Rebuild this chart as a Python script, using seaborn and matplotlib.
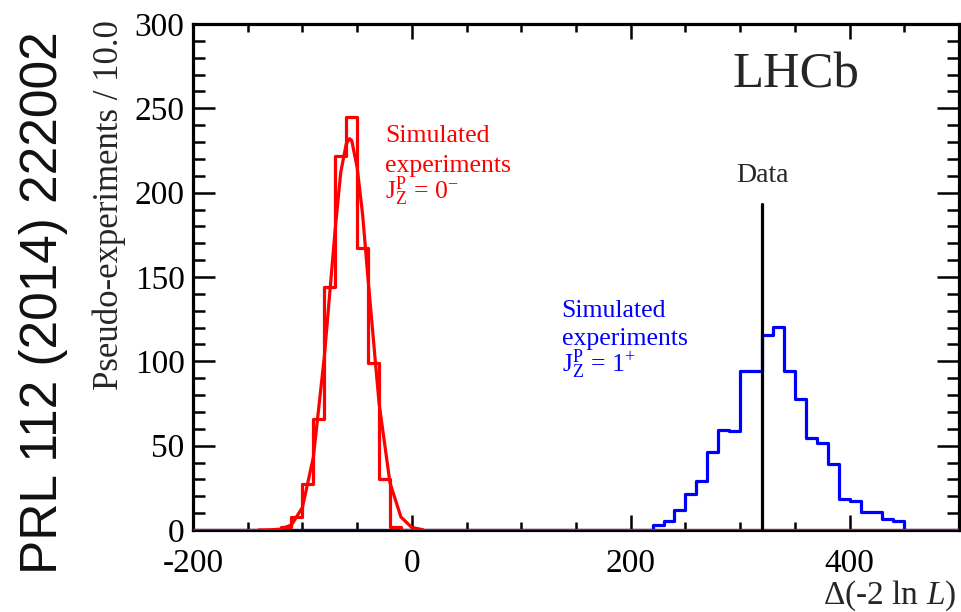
import numpy as np
import pandas as pd
import matplotlib
matplotlib.use("Agg")
import matplotlib.pyplot as plt
from matplotlib.ticker import MultipleLocator, FuncFormatter
import seaborn as sns

# ---------------- data ----------------
bin_lo, bin_hi, bin_w = -200, 500, 10

# red: J_Z^P = 0^- pseudo-experiments (bin lower edges and counts)
red_bins = [-120, -110, -100, -90, -80, -70, -60, -50, -40, -30, -20]
red_counts = [2, 8, 27, 66, 144, 222, 245, 167, 99, 30, 2]

# red fitted curve
fit_x = [-140, -130, -120, -110, -100, -90, -80, -70, -65, -60, -57, -55, -50, -45,
         -40, -30, -20, -10, 0, 10]
fit_y = [0.0, 0.1, 0.5, 3.0, 13.4, 43.2, 102.6, 178.7, 212, 228.8, 232, 231, 215, 187,
         148.6, 75.3, 28.0, 7.7, 1.5, 0.2]

# blue: J_Z^P = 1^+ pseudo-experiments
blue_bins = [220, 230, 240, 250, 260, 270, 280, 290, 300, 310, 320, 330, 340, 350,
             360, 370, 380, 390, 400, 410, 420, 430, 440]
blue_counts = [3, 5.5, 12, 21.5, 29, 46, 59.5, 58.5, 94.3, 94.3, 115.6, 120.5, 94.3,
               77.4, 54.5, 51.6, 39.2, 18.1, 17.3, 10.8, 10.8, 6.3, 5.5]

data_x = 320
data_top = 193

# ---------------- style ----------------
sns.set_style("ticks")
plt.rcParams["font.family"] = ["Liberation Serif", "DejaVu Serif"]
plt.rcParams["mathtext.fontset"] = "custom"
plt.rcParams["mathtext.rm"] = "Liberation Serif"
plt.rcParams["mathtext.it"] = "Liberation Serif:italic"
plt.rcParams["mathtext.bf"] = "Liberation Serif:bold"
plt.rcParams["axes.unicode_minus"] = False

fig = plt.figure(figsize=(9.61, 6.12), dpi=100)
ax = fig.add_axes([193 / 961, 1 - 530 / 612, (959 - 193) / 961, (530 - 24) / 612])

edges = np.arange(bin_lo, bin_hi + bin_w, bin_w)
centers = edges[:-1] + bin_w / 2


def full_counts(lows, counts):
    c = np.zeros(len(centers))
    for lo, v in zip(lows, counts):
        c[int(round((lo - bin_lo) / bin_w))] = v
    return c


df = pd.DataFrame({
    "x": centers,
    "blue": full_counts(blue_bins, blue_counts),
    "red": full_counts(red_bins, red_counts),
})

lw = 2.3
sns.histplot(data=df, x="x", weights="blue", binwidth=bin_w, binrange=(bin_lo, bin_hi),
             element="step", fill=False, color="#0000ff", linewidth=lw, ax=ax)
sns.histplot(data=df, x="x", weights="red", binwidth=bin_w, binrange=(bin_lo, bin_hi),
             element="step", fill=False, color="#ff0000", linewidth=lw, ax=ax)
sns.lineplot(x=fit_x, y=fit_y, color="#ff0000", linewidth=lw, sort=False,
             estimator=None, ax=ax)
ax.plot([data_x, data_x], [0, data_top], color="black", linewidth=lw)

ax.set_xlim(bin_lo, bin_hi)
ax.set_ylim(0, 300)

for s in ax.spines.values():
    s.set_visible(True)
    s.set_linewidth(2.3)
    s.set_color("black")
    s.set_zorder(0.5)

ax.xaxis.set_major_locator(MultipleLocator(200))
ax.xaxis.set_minor_locator(MultipleLocator(50))
ax.yaxis.set_major_locator(MultipleLocator(50))
ax.yaxis.set_minor_locator(MultipleLocator(10))
ax.xaxis.set_major_formatter(FuncFormatter(lambda v, p: f"{int(round(v))}"))
ax.yaxis.set_major_formatter(FuncFormatter(lambda v, p: f"{int(round(v))}"))

ax.tick_params(axis="both", which="both", direction="in", top=True, right=True,
               width=1.8, colors="black", labelsize=24)
ax.tick_params(axis="x", which="major", length=10.8, pad=13)
ax.tick_params(axis="x", which="minor", length=5.8)
ax.tick_params(axis="y", which="major", length=15.8, pad=6)
ax.tick_params(axis="y", which="minor", length=8.6)

ax.set_xlabel("")
ax.set_ylabel("Pseudo-experiments / 10.0", fontsize=25, loc="top")
ax.yaxis.set_label_coords(-0.088, 1.008)

fig.text(956 / 961, 1 - 604 / 612, "\u0394(-2 ln $L$)", fontsize=24, ha="right",
         va="baseline")

# annotations
ax.text(293.4, 262.6, "LHCb", fontsize=36.5, ha="left", va="baseline")
ax.text(data_x, 206.3, "Data", fontsize=20, ha="center", va="baseline")

red_lines = ["Simulated", "experiments", r"$\mathrm{J_Z^P}$ = 0$^{-}$"]
for txt, yy in zip(red_lines, [230.0, 212.4, 196.2]):
    ax.text(-24.6, yy, txt, fontsize=18.5, color="#ff0000", ha="left", va="baseline")

blue_lines = ["Simulated", "experiments", r"$\mathrm{J_Z^P}$ = 1$^{+}$"]
for txt, yy in zip(blue_lines, [126.5, 109.7, 93.9]):
    ax.text(136.9, yy, txt, fontsize=18.5, color="#0000ff", ha="left", va="baseline")

fig.text(44 / 961, 1 - 303 / 612, "PRL 112 (2014) 222002", rotation=90,
         fontsize=37, family=["Liberation Sans", "DejaVu Sans"], ha="center",
         va="center", color="#111111")

fig.savefig("out.png", dpi=100)
